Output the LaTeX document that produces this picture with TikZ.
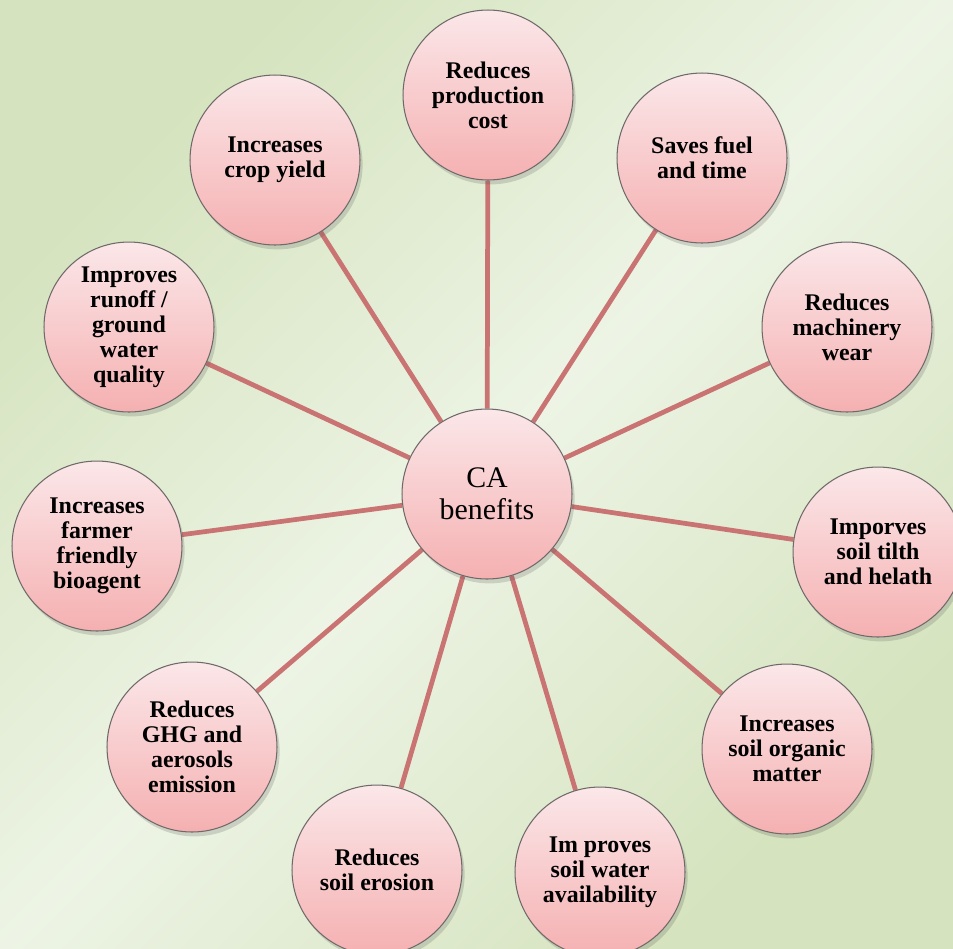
\documentclass[tikz,border=0pt]{standalone}
\usepackage{fontspec}
\setmainfont{Liberation Serif}
\usetikzlibrary{shadows}
\definecolor{bgin}{HTML}{EDF4E5}
\definecolor{bgout}{HTML}{D5E3BE}
\definecolor{pinktop}{HTML}{FBE7E9}
\definecolor{pinkbot}{HTML}{F5B0B1}
\definecolor{spoke}{HTML}{C97373}
\definecolor{rim}{HTML}{6F6969}
\pgfdeclarelayer{back}
\pgfdeclarelayer{links}
\pgfsetlayers{back,links,main}
\tikzset{
  benefit/.style={circle, draw=rim, line width=0.6pt, minimum size=3.4cm,
    inner sep=0pt, top color=pinktop, bottom color=pinkbot, align=center,
    font=\fontsize{13.6}{14.3}\selectfont\bfseries,
    drop shadow={shadow xshift=1.5pt, shadow yshift=-2.5pt, opacity=0.2, fill=black!70}},
  hub/.style={benefit, font=\fontsize{17}{18.2}\selectfont},
  spokeline/.style={draw=spoke, line width=2.7pt}
}
\begin{document}
\begin{tikzpicture}[x=0.02cm,y=-0.02cm]
  \clip (0,0) rectangle (953,948);
  \begin{pgfonlayer}{back}
    \shade[top color=bgout, bottom color=bgout, middle color=bgin, shading angle=45]
      (0,0) rectangle (953,948);
  \end{pgfonlayer}
  % hub
  \node[hub] (ca) at (487,494) {CA\\benefits};
  % benefits round the hub
  \node[benefit] (cost) at (488,95) {Reduces\\production\\cost};
  \node[benefit] (fuel) at (702,158) {Saves fuel\\and time};
  \node[benefit] (wear) at (847,327) {Reduces\\machinery\\wear};
  \node[benefit] (tilth) at (878,552) {Imporves\\soil tilth\\and helath};
  \node[benefit] (organic) at (787,749) {Increases\\soil organic\\matter};
  \node[benefit] (water) at (600,872) {Im proves\\soil water\\availability};
  \node[benefit] (erosion) at (377,870) {Reduces\\soil erosion};
  \node[benefit] (ghg) at (192,747) {Reduces\\GHG and\\aerosols\\emission};
  \node[benefit] (bioagent) at (97,546) {Increases\\farmer\\friendly\\bioagent};
  \node[benefit] (runoff) at (129,327) {Improves\\runoff /\\ground\\water\\quality};
  \node[benefit] (yield) at (275,160) {Increases\\crop yield};
  \begin{pgfonlayer}{links}
    \foreach \b in {cost,fuel,wear,tilth,organic,water,erosion,ghg,bioagent,runoff,yield}
      \draw[spokeline] (ca) -- (\b);
  \end{pgfonlayer}
\end{tikzpicture}
\end{document}
